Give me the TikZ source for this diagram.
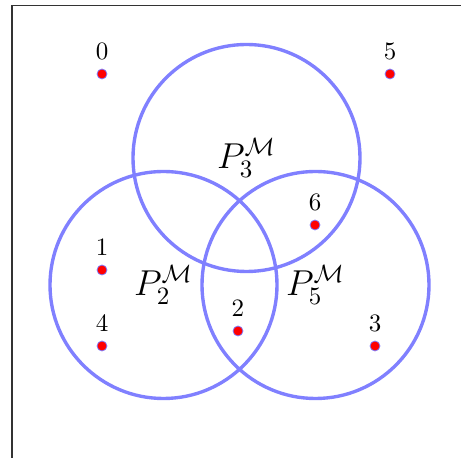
\documentclass[tikz,border=0pt]{standalone}
\begin{document}
\begin{tikzpicture}[x=0.4pt,y=-0.4pt,
  setc/.style={draw=blue!50, line width=1.35pt},
  dot/.style={circle, fill=red, draw=blue!50, line width=0.3pt, inner sep=0pt, minimum size=4pt, label distance=2.7pt},
  setlab/.style={font=\Large}]
\useasboundingbox (0,0) rectangle (461,458);
\coordinate (fa) at (12,458);
\coordinate (fb) at (12,5.5);
\coordinate (fc) at (461,5.5);
\draw[line width=0.5pt, black!80] (fa) -- (fb) -- (fc);
\node[setc, circle, minimum size=90.8pt, inner sep=0pt] (C3) at (246.5,158) {};
\node[setc, circle, minimum size=90.8pt, inner sep=0pt] (C2) at (163.5,285) {};
\node[setc, circle, minimum size=90.8pt, inner sep=0pt] (C5) at (315.5,285) {};
\node[setlab] (L3) at (C3.center) {$P_3^{\mathcal{M}}$};
\node[setlab] (L2) at (C2.center) {$P_2^{\mathcal{M}}$};
\node[setlab] (L5) at (C5.center) {$P_5^{\mathcal{M}}$};
\node[dot, label={above:0}] (p0) at (102,74) {};
\node[dot, label={above:5}] (p5) at (390,74) {};
\node[dot, label={above:1}] (p1) at (102,270) {};
\node[dot, label={above:4}] (p4) at (102,346) {};
\node[dot, label={above:6}] (p6) at (315,225) {};
\node[dot, label={above:2}] (p2) at (238,331) {};
\node[dot, label={above:3}] (p3) at (375,346) {};
\end{tikzpicture}
\end{document}
